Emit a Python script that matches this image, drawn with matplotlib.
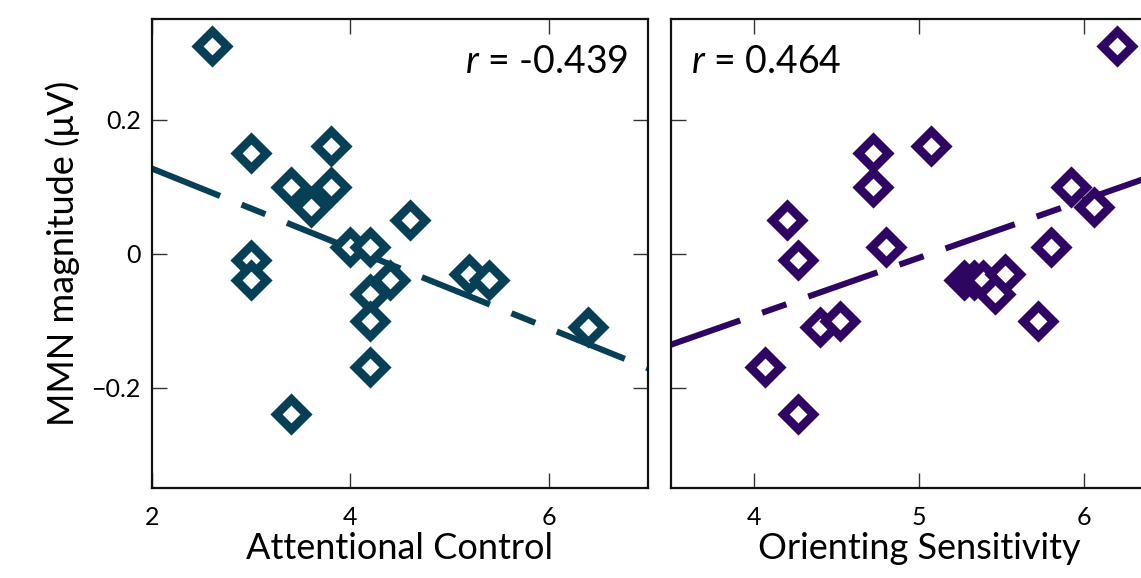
import matplotlib
matplotlib.use('Agg')
import matplotlib.pyplot as plt
import numpy as np

plt.rcParams['font.family'] = ['Lato', 'DejaVu Sans']
plt.rcParams['mathtext.fontset'] = 'custom'
plt.rcParams['mathtext.rm'] = 'Lato'
plt.rcParams['mathtext.it'] = 'Lato:italic'

# attentional control vs MMN
att_x = [2.6, 3.0, 3.0, 3.0, 3.4, 3.6, 3.8, 3.8, 3.4, 4.0,
         4.2, 4.4, 4.2, 4.2, 4.2, 4.6, 5.2, 5.4, 6.4]
att_y = [0.31, 0.15, -0.01, -0.04, 0.10, 0.07, 0.10, 0.16, -0.24, 0.01,
         0.01, -0.04, -0.06, -0.10, -0.17, 0.05, -0.03, -0.04, -0.11]

# orienting sensitivity vs MMN
ori_x = [6.2, 4.72, 5.07, 4.72, 4.20, 5.92, 6.06, 4.80, 5.80, 4.27,
         5.27, 5.33, 5.39, 5.52, 5.46, 5.72, 4.40, 4.52, 4.07, 4.27]
ori_y = [0.31, 0.15, 0.16, 0.10, 0.05, 0.10, 0.07, 0.01, 0.01, -0.01,
         -0.04, -0.04, -0.04, -0.03, -0.06, -0.10, -0.11, -0.10, -0.17, -0.24]

r_att = '-0.439'
r_ori = '0.464'

teal = '#073f56'
purple = '#2f0563'

W, H = 1141, 578
fig = plt.figure(figsize=(W / 100, H / 100), dpi=100)
ax1 = fig.add_axes([152 / W, 1 - 488 / H, 496 / W, 469 / H])
ax2 = fig.add_axes([671 / W, 1 - 488 / H, 496 / W, 469 / H])


def panel(ax, x, y, color, xlim, xticks):
    x = np.array(x)
    y = np.array(y)
    k, b = np.polyfit(x, y, 1)
    xx = np.array(xlim)
    ax.plot(xx, k * xx + b, color=color, lw=4.4, dashes=(12, 3.8, 4.2, 3.8),
            solid_capstyle='butt', dash_capstyle='butt', zorder=2)
    ax.plot(x, y, 'D', ms=14.8, mfc='white', mec=color, mew=6.2,
            linestyle='none', zorder=3)
    ax.set_xlim(*xlim)
    ax.set_ylim(-0.35, 0.35)
    ax.set_xticks(xticks)
    ax.set_yticks([-0.2, 0, 0.2])
    ax.tick_params(direction='in', top=True, right=True, length=11,
                   width=1.0, color='#333333', labelsize=18)
    ax.tick_params(axis='x', pad=13)
    ax.tick_params(axis='y', pad=8)
    for s in ax.spines.values():
        s.set_linewidth(1.6)
        s.set_color('#111111')


panel(ax1, att_x, att_y, teal, (2, 7), [2, 4, 6])
panel(ax2, ori_x, ori_y, purple, (3.5, 6.5), [4, 5, 6])
ax1.set_yticklabels(['\u22120.2', '0', '0.2'])
ax2.set_yticklabels([])

ax1.set_xlabel('Attentional Control', fontsize=26, labelpad=2)
ax2.set_xlabel('Orienting Sensitivity', fontsize=26, labelpad=2)
ax1.set_ylabel('MMN magnitude (\u03bcV)', fontsize=26, labelpad=8)

ax1.text(0.96, 0.885, '$r$ = ' + r_att, transform=ax1.transAxes,
         ha='right', va='baseline', fontsize=27)
ax2.text(0.04, 0.885, '$r$ = ' + r_ori, transform=ax2.transAxes,
         ha='left', va='baseline', fontsize=27)

fig.savefig('out.png', dpi=100)
